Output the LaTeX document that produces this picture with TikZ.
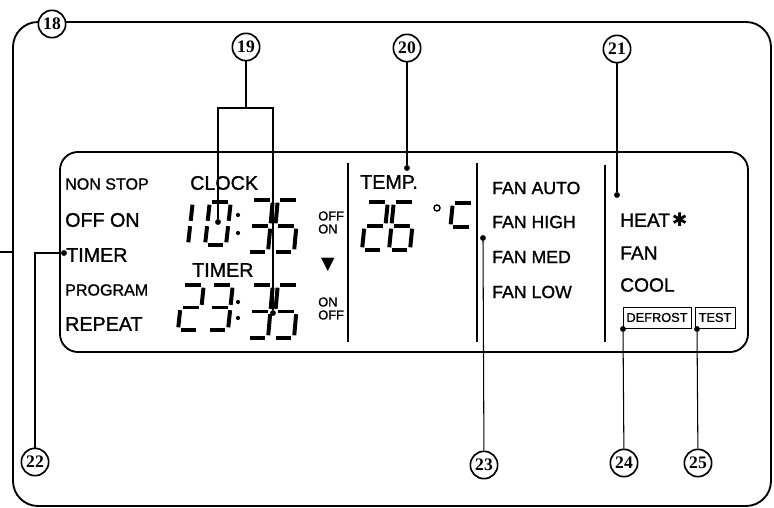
\documentclass[tikz,border=0pt]{standalone}
\usepackage{fontspec}
\setmainfont{Liberation Sans}[FakeBold=1.2]
\newfontfamily\calloutfont{Liberation Serif}
\newfontfamily\symbolfont{DejaVu Sans}
\usetikzlibrary{positioning}

\newcommand\lcdbig{\fontsize{16.8}{18}\selectfont}
\newcommand\lcdmid{\fontsize{15.1}{16}\selectfont}
\newcommand\lcdmode{\fontsize{16.4}{17}\selectfont}
\newcommand\lcdsmall{\fontsize{13.7}{15}\selectfont}
\newcommand\lcdtiny{\fontsize{11}{11}\selectfont}
\newcommand\lcdbox{\fontsize{10.9}{11}\selectfont}

% seven-segment cell: 21 wide, 48 high, slanted
\tikzset{
  lcd a/.style={insert path={(4.8,0) -- (25.8,0)}},
  lcd b/.style={insert path={(25.8,0) -- (23.4,24)}},
  lcd c/.style={insert path={(23.4,24) -- (21,48)}},
  lcd d/.style={insert path={(0,48) -- (21,48)}},
  lcd e/.style={insert path={(2.4,24) -- (0,48)}},
  lcd f/.style={insert path={(4.8,0) -- (2.4,24)}},
  lcd g/.style={insert path={(2.4,24) -- (23.4,24)}},
  lcdseg/.style={draw, line width=3.4pt, line cap=butt, shorten >=2.3pt, shorten <=2.3pt},
}
\newcommand\lcddigit[4]{%
  \begin{scope}[shift={(#1,#2)}, yscale=#3/48]
    \foreach \s in {#4}{\path[lcdseg, lcd \s];}
  \end{scope}}

\begin{document}
\begin{tikzpicture}[
  x=0.03cm, y=-0.03cm,
  outer/.style={draw, line width=1.6pt, rounded corners=7.5mm},
  panel/.style={draw, line width=1.6pt, rounded corners=5.4mm},
  divider/.style={line width=1.7pt},
  lcd/.style={anchor=west, inner sep=0pt},
  tag/.style={draw, line width=0.8pt, inner sep=0pt, minimum height=6.3mm, font=\lcdbox},
  callout/.style={circle, draw, line width=1.4pt, fill=white, inner sep=0pt, minimum size=8.2mm, font=\calloutfont\bfseries\fontsize{15}{15}\selectfont},
  dot/.style={circle, fill, inner sep=0pt, minimum size=5pt},
  leader/.style={line width=0.9pt},
]
\useasboundingbox (0,0) rectangle (774,508);

% ---- casing and LCD panel ----
\draw[outer] (13,22) rectangle (771,506);
\draw[panel] (60,152) rectangle (748,352);
\draw[divider] (348,163) -- (348,342);
\draw[divider] (477,163) -- (477,342);
\draw[divider] (605,165) -- (605,342);

% ---- left column ----
\node[lcd, font=\lcdsmall] (nonstop) at (65,184) {NON STOP};
\node[lcd, font=\lcdbig]   (offon)   at (65,220) {OFF ON};
\node[lcd, font=\lcdbig]   (timer)   at (66,255) {TIMER};
\node[lcd, font=\lcdsmall] (program) at (65,290) {PROGRAM};
\node[lcd, font=\lcdbig]   (repeat)  at (65,324) {REPEAT};

% ---- clock / timer block ----
\node[lcd, font=\lcdbig] (clock)  at (190,183) {CLOCK};
\node[lcd, font=\lcdbig] (timer2) at (192,270) {TIMER};
\lcddigit{167}{202}{43}{b,c}
\lcddigit{205}{202}{43}{a,b,c,d,e,f}
\lcddigit{247}{200}{52}{a,b,c,d,g}
\lcddigit{273}{200}{52}{a,f,g,c,d}
\fill (238,215) circle (1.8pt) (238,233) circle (1.8pt);
\lcddigit{178}{285}{45}{a,b,g,e,d}
\lcddigit{207}{285}{45}{a,b,c,d,g}
\lcddigit{247}{285}{53}{a,b,c,d,g}
\lcddigit{273}{285}{53}{a,f,g,c,d}
\fill (238,302) circle (1.8pt) (238,318) circle (1.8pt);
\node[lcd, font=\lcdtiny] (offA) at (318,216) {OFF};
\node[lcd, font=\lcdtiny] (onA)  at (318,229) {ON};
\node[font=\symbolfont\fontsize{15}{15}\selectfont, inner sep=0pt] (down) at (328,265) {▼};
\node[lcd, font=\lcdtiny] (onB)  at (318,302) {ON};
\node[lcd, font=\lcdtiny] (offB) at (318,315) {OFF};

% ---- temperature ----
\node[lcd, font=\lcdbig] (temp) at (360,182) {TEMP.};
\lcddigit{362}{202}{48}{a,b,g,e,d}
\lcddigit{389}{202}{48}{a,f,g,e,d,c}
\draw[line width=1.2pt] (437,208) circle (2.6pt);
\lcddigit{448}{203}{48}{a,f,g}

% ---- fan speed ----
\node[lcd, font=\lcdmid] (fanauto) at (492,188) {FAN AUTO};
\node[lcd, font=\lcdmid] (fanhigh) at (492,222) {FAN HIGH};
\node[lcd, font=\lcdmid] (fanmed)  at (492,257) {FAN MED};
\node[lcd, font=\lcdmid] (fanlow)  at (492,292) {FAN LOW};

% ---- mode ----
\node[lcd, font=\lcdmode] (heat) at (620,220) {HEAT\kern1.5pt{\symbolfont\fontsize{16}{16}\selectfont ✱}};
\node[lcd, font=\lcdmode] (fan)  at (620,253) {FAN};
\node[lcd, font=\lcdmode] (cool) at (620,285) {COOL};
\node[tag, minimum width=20.4mm] (defrost) at (657,317.5) {DEFROST};
\node[tag, minimum width=12mm]   (test)    at (715,317.5) {TEST};

% ---- callouts ----
\node[callout] (n18) at (52,24)   {18};
\node[callout] (n19) at (246,47)  {19};
\node[callout] (n20) at (407,48)  {20};
\node[callout] (n21) at (617,49)  {21};
\node[callout] (n22) at (35,462)  {22};
\node[callout] (n23) at (484,465) {23};
\node[callout] (n24) at (624,463) {24};
\node[callout] (n25) at (698,463) {25};

\node[dot] (d19a) at (218,222) {};
\node[dot] (d19b) at (273,313) {};
\node[dot] (d20)  at (407,168) {};
\node[dot] (d21)  at (617,195) {};
\node[dot] (d22)  at (64,253)  {};
\node[dot] (d23)  at (483,238) {};
\node[dot] (d24)  at (623,329) {};
\node[dot] (d25)  at (697,329) {};
\coordinate (b19) at (246,108);
\coordinate (stubL) at (0,252);
\coordinate (stubR) at (13,252);

\draw[leader] (n19) -- (b19);
\draw[leader] (d19a) -- (d19a |- b19) -- (d19b |- b19) -- (d19b);
\draw[leader] (n20) -- (d20);
\draw[leader] (n21) -- (d21);
\draw[leader] (n22) |- (d22);
\draw[leader] (n23) -- (d23);
\draw[leader] (n24) -- (d24);
\draw[leader] (n25) -- (d25);
\draw[leader] (stubL) -- (stubR);

\end{tikzpicture}
\end{document}
